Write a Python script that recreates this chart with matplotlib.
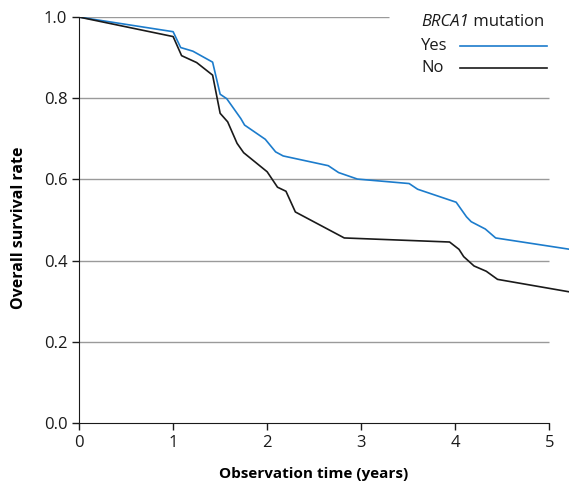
import matplotlib.pyplot as plt
from matplotlib.lines import Line2D

plt.rcParams['font.family'] = ['Open Sans', 'DejaVu Sans']

# survival curves (time in years, survival rate)
yes_time = [0, 1.0, 1.08, 1.21, 1.42, 1.50, 1.57, 1.72, 1.76, 1.98, 2.09, 2.17,
            2.65, 2.76, 2.96, 3.51, 3.60, 4.01, 4.12, 4.17, 4.32, 4.43, 5.22]
yes_surv = [1.0, 0.964, 0.925, 0.916, 0.889, 0.810, 0.799, 0.750, 0.734, 0.699, 0.668, 0.658,
            0.634, 0.617, 0.601, 0.590, 0.576, 0.544, 0.508, 0.496, 0.478, 0.456, 0.428]

no_time = [0, 1.0, 1.09, 1.25, 1.42, 1.50, 1.58, 1.68, 1.75, 2.00, 2.11, 2.20,
           2.30, 2.82, 3.94, 4.04, 4.09, 4.20, 4.33, 4.45, 5.22]
no_surv = [1.0, 0.952, 0.905, 0.888, 0.857, 0.763, 0.742, 0.689, 0.666, 0.619, 0.581, 0.571,
           0.520, 0.456, 0.446, 0.428, 0.410, 0.387, 0.374, 0.354, 0.323]

x_ticks = [0, 1, 2, 3, 4, 5]
y_ticks = [0.0, 0.2, 0.4, 0.6, 0.8, 1.0]
groups = ['Yes', 'No']
colors = ['#1c7ccc', '#1a1a1a']

fig = plt.figure(figsize=(5.69, 4.88), dpi=100)
ax = fig.add_axes([0.139, 0.133, 0.861, 0.832])

# gridlines: top one stops short to make room for the legend
ax.hlines(y_ticks[1:-1], 0, 5, color='#9a9a9a', lw=1.0, zorder=1)
ax.hlines(y_ticks[-1], 0, 3.3, color='#9a9a9a', lw=1.0, zorder=1)

ax.plot(yes_time, yes_surv, color=colors[0], lw=1.2, zorder=3)
ax.plot(no_time, no_surv, color=colors[1], lw=1.2, zorder=3)

ax.set_xlim(0, 5.21)
ax.set_ylim(0, 1.0)
ax.set_xticks(x_ticks)
ax.set_yticks(y_ticks)
ax.set_yticklabels(['%.1f' % v for v in y_ticks])
ax.tick_params(labelsize=12, direction='out', length=5, width=1, colors='#1a1a1a')
for s in ['top', 'right']:
    ax.spines[s].set_visible(False)
ax.spines['bottom'].set_bounds(0, 5)
ax.spines['left'].set_color('#1a1a1a')
ax.spines['bottom'].set_color('#1a1a1a')

ax.set_xlabel('Observation time (years)', fontsize=11, fontweight='bold')
ax.set_ylabel('Overall survival rate', fontsize=11.5, fontweight='bold')
ax.xaxis.set_label_coords(0.478, -0.108)
ax.yaxis.set_label_coords(-0.106, 0.48)

# legend drawn by hand: title, then label on the left and line on the right
t1 = fig.text(0.740, 0.954, 'BRCA1', fontsize=12, style='italic', va='center', color='#1a1a1a')
fig.canvas.draw()
ax.annotate(' mutation', xy=(1, 0.5), xycoords=t1, va='center', fontsize=12, color='#1a1a1a')
for i, (g, c) in enumerate(zip(groups, colors)):
    y = 0.906 - i * 0.046
    fig.text(0.740, y, g, fontsize=12, va='center', color='#1a1a1a')
    fig.add_artist(Line2D([0.808, 0.961], [y, y], color=c, lw=1.2))

fig.savefig('out.png', dpi=100)
